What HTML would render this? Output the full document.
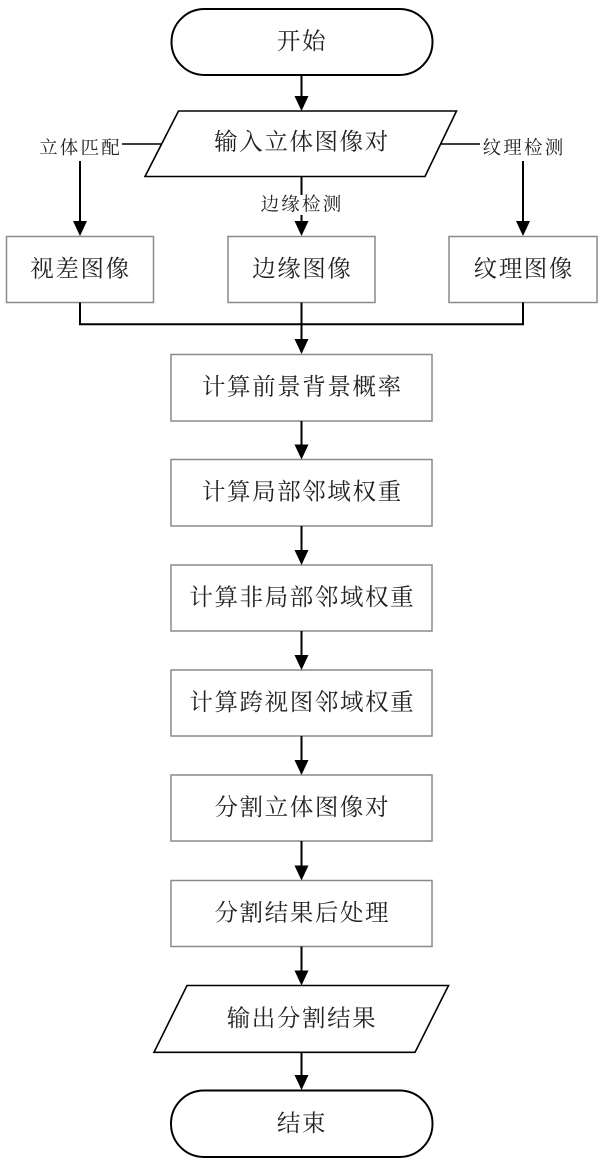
<!DOCTYPE html>
<html><head><meta charset="utf-8"><style>
html,body{margin:0;padding:0;background:#fff;}
svg{display:block;}
text{font-family:"Liberation Serif","Noto Serif CJK SC","Noto Sans CJK SC",serif;fill:#222;}
</style></head><body>
<svg width="604" height="1167" viewBox="0 0 604 1167" xmlns="http://www.w3.org/2000/svg">
<defs>
<g id="ah"><polygon points="-7,-15 7,-15 0,0" fill="#000"/></g>
</defs>
<rect width="604" height="1167" fill="#fff"/>

<!-- start terminal -->
<rect x="171.5" y="9" width="261" height="66" rx="33" ry="33" fill="#fff" stroke="#000" stroke-width="2"/>
<text x="302" y="42" font-size="23.5" letter-spacing="1.6" text-anchor="middle" dominant-baseline="central">开始</text>

<!-- arrow start -> input -->
<line x1="301.5" y1="75" x2="301.5" y2="97" stroke="#000" stroke-width="2"/>
<use href="#ah" x="301.5" y="111"/>

<!-- input parallelogram -->
<polygon points="178.5,111 456.5,111 425,176.5 145,176.5" fill="#fff" stroke="#000" stroke-width="1.6"/>
<text x="302" y="142.5" font-size="23.5" letter-spacing="1.6" text-anchor="middle" dominant-baseline="central">输入立体图像对</text>

<!-- side branches -->
<line x1="122" y1="144" x2="161.5" y2="144" stroke="#000" stroke-width="1.6"/>
<line x1="440.5" y1="144" x2="480" y2="144" stroke="#000" stroke-width="1.6"/>
<text x="80.5" y="149" font-size="18.5" letter-spacing="2.2" text-anchor="middle" dominant-baseline="central">立体匹配</text>
<text x="524" y="149" font-size="18.5" letter-spacing="2.2" text-anchor="middle" dominant-baseline="central">纹理检测</text>

<line x1="80" y1="161" x2="80" y2="222" stroke="#000" stroke-width="2"/>
<use href="#ah" x="80" y="236"/>
<line x1="523" y1="161" x2="523" y2="222" stroke="#000" stroke-width="2"/>
<use href="#ah" x="523" y="236"/>

<!-- middle branch -->
<line x1="301.5" y1="176.5" x2="301.5" y2="195" stroke="#000" stroke-width="2"/>
<text x="302" y="205.5" font-size="18.5" letter-spacing="2.2" text-anchor="middle" dominant-baseline="central">边缘检测</text>
<line x1="301.5" y1="215" x2="301.5" y2="222" stroke="#000" stroke-width="2"/>
<use href="#ah" x="301.5" y="236"/>

<!-- three boxes -->
<g fill="#fff" stroke="#8a8a8a" stroke-width="1.5">
<rect x="6.5" y="236.5" width="147" height="66"/>
<rect x="228" y="236.5" width="147" height="66"/>
<rect x="449" y="236.5" width="148" height="66"/>
</g>
<text x="80.5" y="269.5" font-size="23.5" letter-spacing="1.6" text-anchor="middle" dominant-baseline="central">视差图像</text>
<text x="302.3" y="269.5" font-size="23.5" letter-spacing="1.6" text-anchor="middle" dominant-baseline="central">边缘图像</text>
<text x="523.8" y="269.5" font-size="23.5" letter-spacing="1.6" text-anchor="middle" dominant-baseline="central">纹理图像</text>

<!-- join -->
<polyline points="80,302.5 80,324.3 523,324.3 523,302.5" fill="none" stroke="#000" stroke-width="2"/>
<line x1="301.5" y1="302.5" x2="301.5" y2="340" stroke="#000" stroke-width="2"/>
<use href="#ah" x="301.5" y="354"/>

<!-- process boxes -->
<g fill="#fff" stroke="#8a8a8a" stroke-width="1.5">
<rect x="171" y="354.5" width="261" height="66.5"/>
<rect x="171" y="459.5" width="261" height="66.5"/>
<rect x="171" y="565" width="261" height="66"/>
<rect x="171" y="670" width="261" height="66"/>
<rect x="171" y="775" width="261" height="66"/>
<rect x="171" y="880.5" width="261" height="66"/>
</g>
<g font-size="23.5" letter-spacing="1.6" text-anchor="middle" dominant-baseline="central">
<text x="302.3" y="387.5">计算前景背景概率</text>
<text x="302.3" y="492.5">计算局部邻域权重</text>
<text x="302.3" y="598">计算非局部邻域权重</text>
<text x="302.3" y="703">计算跨视图邻域权重</text>
<text x="302.3" y="808">分割立体图像对</text>
<text x="302.3" y="913.5">分割结果后处理</text>
</g>

<!-- arrows between boxes -->
<g stroke="#000" stroke-width="2">
<line x1="301.5" y1="421" x2="301.5" y2="446"/>
<line x1="301.5" y1="526" x2="301.5" y2="551"/>
<line x1="301.5" y1="631" x2="301.5" y2="656"/>
<line x1="301.5" y1="736" x2="301.5" y2="761"/>
<line x1="301.5" y1="841" x2="301.5" y2="867"/>
<line x1="301.5" y1="946.5" x2="301.5" y2="972"/>
<line x1="301.5" y1="1052" x2="301.5" y2="1076"/>
</g>
<use href="#ah" x="301.5" y="459.5"/>
<use href="#ah" x="301.5" y="565"/>
<use href="#ah" x="301.5" y="670"/>
<use href="#ah" x="301.5" y="775"/>
<use href="#ah" x="301.5" y="880.5"/>
<use href="#ah" x="301.5" y="985.5"/>
<use href="#ah" x="301.5" y="1090"/>

<!-- output parallelogram -->
<polygon points="187,985.5 448.5,985.5 415,1052.3 154,1052.3" fill="#fff" stroke="#000" stroke-width="1.6"/>
<text x="302" y="1019" font-size="23.5" letter-spacing="1.6" text-anchor="middle" dominant-baseline="central">输出分割结果</text>

<!-- end terminal -->
<rect x="171" y="1090.5" width="261.5" height="66.5" rx="33" ry="33" fill="#fff" stroke="#000" stroke-width="2"/>
<text x="302" y="1124" font-size="23.5" letter-spacing="1.6" text-anchor="middle" dominant-baseline="central">结束</text>
</svg>
</body></html>
